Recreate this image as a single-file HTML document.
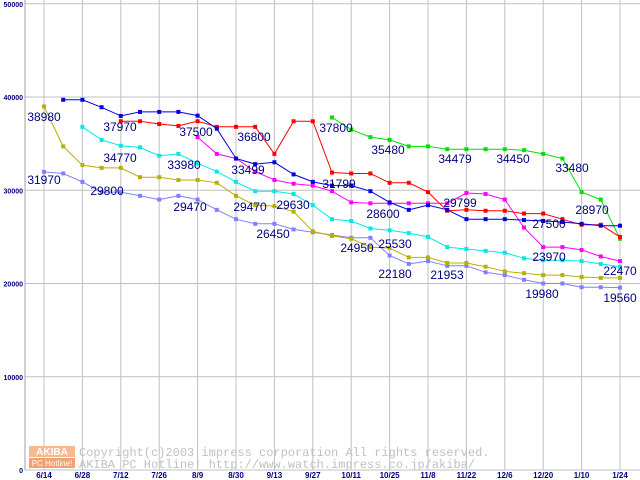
<!DOCTYPE html>
<html><head><meta charset="utf-8"><style>
body{margin:0;background:#fff;}
svg{display:block;font-family:"Liberation Sans",sans-serif;}
</style></head><body>
<svg id="chart" width="640" height="480" viewBox="0 0 640 480" xmlns="http://www.w3.org/2000/svg">
<rect width="640" height="480" fill="#fff"/>
<g id="grid"></g>
<g id="wm">
<rect x="29" y="446" width="46" height="11" fill="#f8b890"/>
<text x="52" y="455" font-size="10" font-weight="bold" fill="#fff" text-anchor="middle">AKIBA</text>
<rect x="29" y="458" width="46" height="10" fill="#f4a070"/>
<text x="52" y="466" font-size="8" fill="#fff" text-anchor="middle">PC Hotline!</text>
<text x="79" y="456" font-size="12" fill="#c0c0c0" font-family="Liberation Mono, monospace">Copyright(c)2003 impress corporation All rights reserved.</text>
<text x="79" y="468" font-size="12" fill="#c0c0c0" font-family="Liberation Mono, monospace">AKIBA PC Hotline!  http://www.watch.impress.co.jp/akiba/</text>
</g>
<g id="series"></g>
<g id="labels"></g>
</svg>
<script>
const xTicks=["6/14","6/28","7/12","7/26","8/9","8/30","9/13","9/27","10/11","10/25","11/8","11/22","12/6","12/20","1/10","1/24"];
const yTicks=[0,10000,20000,30000,40000,50000];
const blueStart=1;
const blueVals=[39700,39700,38900,37970,38400,38400,38400,38000,36600,33400,32800,33000,31700,30900,30500,30500,29900,28700,27900,28400,27900,26900,26900,26900,26800,26700,26600,26400,26200,26200];
const redStart=4;
const redVals=[37400,37400,37100,36900,37400,36800,36800,36800,33900,37400,37400,31900,31800,31800,30800,30800,29800,27800,27900,27800,27800,27500,27500,26900,26300,26300,25000];
const greenStart=15;
const greenVals=[37800,36500,35700,35400,34700,34700,34400,34400,34400,34400,34300,33900,33400,29800,29000,24800];
const magentaStart=8;
const magentaVals=[35700,33900,33400,32000,31100,30700,30500,29900,28700,28600,28600,28600,28600,28600,29700,29600,29000,26000,23900,23900,23600,22900,22400];
const cyanStart=2;
const cyanVals=[36800,35400,34770,34600,33700,33900,32900,32000,30900,29900,29900,29600,28400,26900,26700,25900,25700,25400,25000,23900,23700,23500,23300,22700,22500,22500,22400,22100,21800];
const oliveStart=0;
const oliveVals=[38980,34700,32700,32400,32400,31400,31400,31100,31100,30800,29400,28400,28300,27700,25600,25100,24800,23900,23800,22800,22800,22200,22200,21800,21300,21100,20900,20900,20700,20600,20600];
const lavStart=0;
const lavVals=[31970,31800,30900,29800,29800,29400,29000,29400,29000,27900,26900,26400,26400,25800,25500,25200,24900,24900,23000,22100,22400,21900,21900,21200,20900,20400,20000,20000,19600,19600,19560];
const labelText=["38980","31970","37970","34770","29800","37500","33980","29470","36800","33499","29470","29630","26450","37800","31799","24950","35480","28600","25530","22180","34479","29799","21953","34450","27500","23970","19980","33480","28970","22470","19560"];
const labelX=[44,44,120,120,107,196,184,190,254,248,250,293,273,336,339,357,388,383,395,395,455,460,447,513,549,549,542,572,592,620,620];
const labelY=[121,184,131,162,195,136,169,211,141,174,211,209,238,132,188,252,154,218,248,278,163,207,279,163,228,261,298,172,214,275,302];

const NS="http://www.w3.org/2000/svg";
const xOf=i=>44+i*19.2;
const yOf=v=>470-v*0.009325;
function mk(tag,attrs,parent){const e=document.createElementNS(NS,tag);for(const k in attrs)e.setAttribute(k,attrs[k]);parent.appendChild(e);return e;}
const grid=document.getElementById('grid');
yTicks.forEach(v=>{
  const l=mk('line',{x1:25,x2:640,y1:yOf(v),y2:yOf(v),stroke:'#c0c0c0','stroke-width':1},grid);
  
  
  const t=mk('text',{x:23,y:yOf(v)+3,'font-size':7,'font-weight':'bold',fill:'#000080','text-anchor':'end'},grid);
  t.textContent=v;
  
  
});
xTicks.forEach((s,k)=>{
  const x=xOf(k*2);
  const l=mk('line',{x1:x,x2:x,y1:0,y2:470,stroke:'#c0c0c0','stroke-width':1},grid);
  
  
  const t=mk('text',{x:x,y:478,'font-size':8,'font-weight':'bold',fill:'#000080','text-anchor':'middle'},grid);
  t.textContent=s;
  
  
});
const ax=mk('line',{x1:25,x2:25,y1:0,y2:470,stroke:'#a0a0a0','stroke-width':1},grid);


const ser=document.getElementById('series');
function drawSeries(name,start,vals,color){
  const g=mk('g',{},ser);
  
  
  const pts=vals.map((v,j)=>xOf(start+j).toFixed(1)+','+yOf(v).toFixed(1)).join(' ');
  const p=mk('polyline',{points:pts,fill:'none',stroke:color,'stroke-width':1},g);
  
  
  vals.forEach((v,j)=>{
    const r=mk('rect',{x:xOf(start+j)-2,y:yOf(v)-2,width:4,height:4,fill:color},g);
    
    
  });
}
drawSeries('series-lavender',lavStart,lavVals,'#8080ff');
drawSeries('series-olive',oliveStart,oliveVals,'#b8b000');
drawSeries('series-cyan',cyanStart,cyanVals,'#00e8e8');
drawSeries('series-magenta',magentaStart,magentaVals,'#ff00ff');
drawSeries('series-green',greenStart,greenVals,'#00e000');
drawSeries('series-red',redStart,redVals,'#ff0000');
drawSeries('series-blue',blueStart,blueVals,'#0000e0');
const lab=document.getElementById('labels');
labelText.forEach((s,i)=>{
  const t=mk('text',{x:labelX[i],y:labelY[i],'font-size':12,fill:'#000080','text-anchor':'middle'},lab);
  t.textContent=s;
  
  
});
</script>
</body></html>
